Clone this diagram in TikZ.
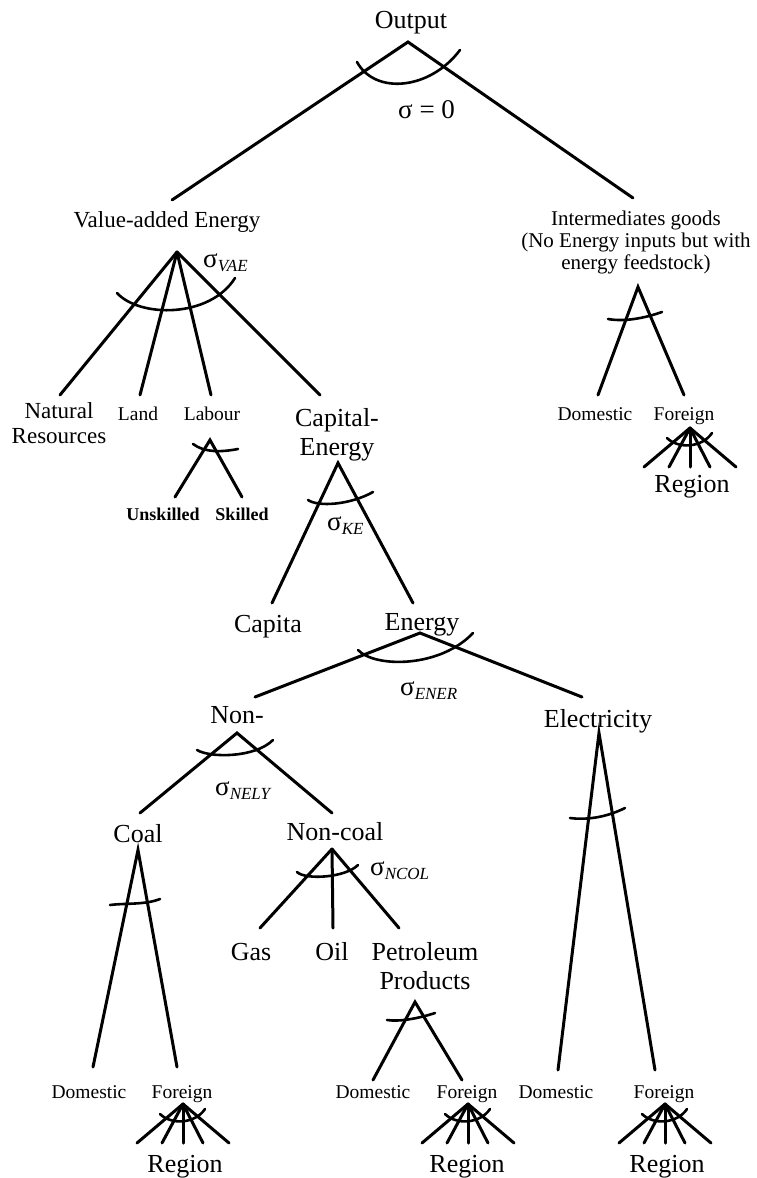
\documentclass[tikz,border=0pt]{standalone}
\usepackage{fontspec}
\setmainfont{Liberation Serif}
\newcommand{\sigl}[1]{σ\raisebox{-4.5pt}{\fontsize{17}{17}\selectfont\itshape #1}}
\newcommand{\regionfan}[2]{%
  \coordinate (#1) at (#2);
  \foreach \d [count=\i] in {-46,-21,0,20,46} \draw[br] (#1) -- ++(\d,39) coordinate (#1-\i);
  \draw[arcl] (#1) ++(-23,10) .. controls +(11,11) and +(-10,15) .. ++(45,-5);
}
\tikzset{
  br/.style={line width=3pt, line cap=round},
  arcl/.style={line width=2.6pt, line cap=round},
  big/.style={font=\fontsize{26}{29}\selectfont, inner sep=0pt},
  mid/.style={font=\fontsize{23}{25}\selectfont, inner sep=0pt},
  sml/.style={font=\fontsize{19.5}{21}\selectfont, inner sep=0pt},
  sig/.style={font=\fontsize{27}{27}\selectfont, inner sep=0pt, anchor=base west},
}
\begin{document}
\begin{tikzpicture}[x=1pt,y=-1pt]
\useasboundingbox (0,0) rectangle (756,1178);

% ---------- labels ----------
\node[big, anchor=base] (out) at (411,28) {Output};
\node[sig] (s0) at (398,118) {σ = 0};
\node[mid, anchor=base] (vae) at (167,227) {Value-added Energy};
\node[font=\fontsize{21}{22}\selectfont, inner sep=0pt, align=center, anchor=north] (inter) at (636,211)
  {Intermediates goods\\(No Energy inputs but with\\energy feedstock)};
\node[sig] (svae) at (203,267) {\sigl{VAE}};
\node[mid, align=center, anchor=north] (nat) at (59,402) {Natural\\Resources};
\node[sml, anchor=base] (land) at (138,420) {Land};
\node[sml, anchor=base] (lab) at (212,420) {Labour};
\node[big, align=center, anchor=north] (ce) at (337,408) {Capital-\\Energy};
\node[font=\fontsize{18}{20}\selectfont\bfseries, inner sep=0pt, anchor=base] (unsk) at (163,520) {Unskilled};
\node[font=\fontsize{18}{20}\selectfont\bfseries, inner sep=0pt, anchor=base] (skil) at (242,520) {Skilled};
\node[sig] (ske) at (327,530) {\sigl{KE}};
\node[big, anchor=base] (capi) at (268,632) {Capita};
\node[big, anchor=base] (ener) at (422,630) {Energy};
\node[sig] (sener) at (400,695) {\sigl{ENER}};
\node[big, anchor=base] (nonel) at (237,723) {Non-};
\node[big, anchor=base] (elec) at (598,727) {Electricity};
\node[sig] (snely) at (215,795) {\sigl{NELY}};
\node[big, anchor=base] (coal) at (138,842) {Coal};
\node[big, anchor=base] (ncoal) at (335,840) {Non-coal};
\node[sig] (sncol) at (370,875) {\sigl{NCOL}};
\node[big, anchor=base] (gas) at (251,960) {Gas};
\node[big, anchor=base] (oil) at (332,960) {Oil};
\node[big, align=center, anchor=north] (petr) at (425,942) {Petroleum\\Products};

\node[sml, anchor=base] (dom0) at (595,420) {Domestic};
\node[sml, anchor=base] (for0) at (684,420) {Foreign};
\node[big, anchor=base] (reg0) at (692,492) {Region};
\node[sml, anchor=base] (dom1) at (89,1098) {Domestic};
\node[sml, anchor=base] (for1) at (182,1098) {Foreign};
\node[big, anchor=base] (reg1) at (185,1172) {Region};
\node[sml, anchor=base] (dom2) at (373,1098) {Domestic};
\node[sml, anchor=base] (for2) at (467,1098) {Foreign};
\node[big, anchor=base] (reg2) at (467,1172) {Region};
\node[sml, anchor=base] (dom3) at (556,1098) {Domestic};
\node[sml, anchor=base] (for3) at (664,1098) {Foreign};
\node[big, anchor=base] (reg3) at (667,1172) {Region};

% ---------- output ----------
\coordinate (a-out) at (408,42);
\coordinate (e-vae) at (172,200);
\coordinate (e-int) at (633,198);
\draw[br] (e-vae) -- (a-out) -- (e-int);
\draw[arcl] (357,62) .. controls (375,95) and (430,90) .. (460,50);

% ---------- value-added energy ----------
\coordinate (a-vae) at (177,252);
\coordinate (e-nat) at (60,395);
\coordinate (e-land) at (140,395);
\coordinate (e-lab) at (211,395);
\coordinate (e-ce) at (320,395);
\draw[br] (a-vae) -- (e-nat);
\draw[br] (a-vae) -- (e-land);
\draw[br] (a-vae) -- (e-lab);
\draw[br] (a-vae) -- (e-ce);
\draw[arcl] (117,293) .. controls (140,318) and (210,318) .. (235,278);

% ---------- labour ----------
\coordinate (a-lab) at (210,440);
\coordinate (e-unsk) at (175,497);
\coordinate (e-skil) at (242,497);
\draw[br] (e-unsk) -- (a-lab) -- (e-skil);
\draw[arcl] (193,444) .. controls (205,453) and (222,452) .. (238,449);

% ---------- capital-energy ----------
\coordinate (a-ce) at (338,463);
\coordinate (e-capi) at (272,603);
\coordinate (e-ener) at (413,603);
\draw[br] (e-capi) -- (a-ce) -- (e-ener);
\draw[arcl] (308,500) .. controls (318,507) and (350,505) .. (373,492);

% ---------- energy ----------
\coordinate (a-ener) at (420,633);
\coordinate (e-nonel) at (255,697);
\coordinate (e-elec) at (582,697);
\draw[br] (e-nonel) -- (a-ener) -- (e-elec);
\draw[arcl] (358,650) .. controls (375,668) and (440,668) .. (473,633);

% ---------- non-electricity ----------
\coordinate (a-nonel) at (237,733);
\coordinate (e-coal) at (140,813);
\coordinate (e-ncoal) at (332,813);
\draw[br] (e-coal) -- (a-nonel) -- (e-ncoal);
\draw[arcl] (197,750) .. controls (210,758) and (255,758) .. (273,740);

% ---------- coal ----------
\coordinate (a-coal) at (138,850);
\coordinate (e-dom1) at (93,1067);
\coordinate (e-for1) at (177,1067);
\draw[br] (e-dom1) -- (a-coal) -- (e-for1);
\draw[arcl] (110,905) .. controls (125,903) and (145,905) .. (160,899);

% ---------- non-coal ----------
\coordinate (a-ncoal) at (332,849);
\coordinate (e-gas) at (260,928);
\coordinate (e-oil) at (333,928);
\coordinate (e-petr) at (399,928);
\draw[br] (a-ncoal) -- (e-gas);
\draw[br] (a-ncoal) -- (e-oil);
\draw[br] (a-ncoal) -- (e-petr);
\draw[arcl] (297,872) .. controls (305,880) and (345,878) .. (358,865);

% ---------- petroleum ----------
\coordinate (a-petr) at (415,1002);
\coordinate (e-dom2) at (373,1080);
\coordinate (e-for2) at (462,1080);
\draw[br] (e-dom2) -- (a-petr) -- (e-for2);
\draw[arcl] (387,1020) .. controls (400,1022) and (420,1018) .. (435,1013);

% ---------- electricity ----------
\coordinate (a-elec) at (599,733);
\coordinate (e-dom3) at (558,1070);
\coordinate (e-for3) at (655,1070);
\draw[br] (e-dom3) -- (a-elec) -- (e-for3);
\draw[arcl] (570,818) .. controls (585,820) and (605,818) .. (625,808);

% ---------- intermediates ----------
\coordinate (a-int) at (638,287);
\coordinate (e-dom0) at (598,395);
\coordinate (e-for0) at (684,395);
\draw[br] (e-dom0) -- (a-int) -- (e-for0);
\draw[arcl] (608,319) .. controls (625,322) and (645,318) .. (662,312);

% ---------- region fans ----------
\regionfan{f0}{690,428}
\regionfan{f1}{183,1104}
\regionfan{f2}{468,1104}
\regionfan{f3}{665,1104}
\end{tikzpicture}
\end{document}
